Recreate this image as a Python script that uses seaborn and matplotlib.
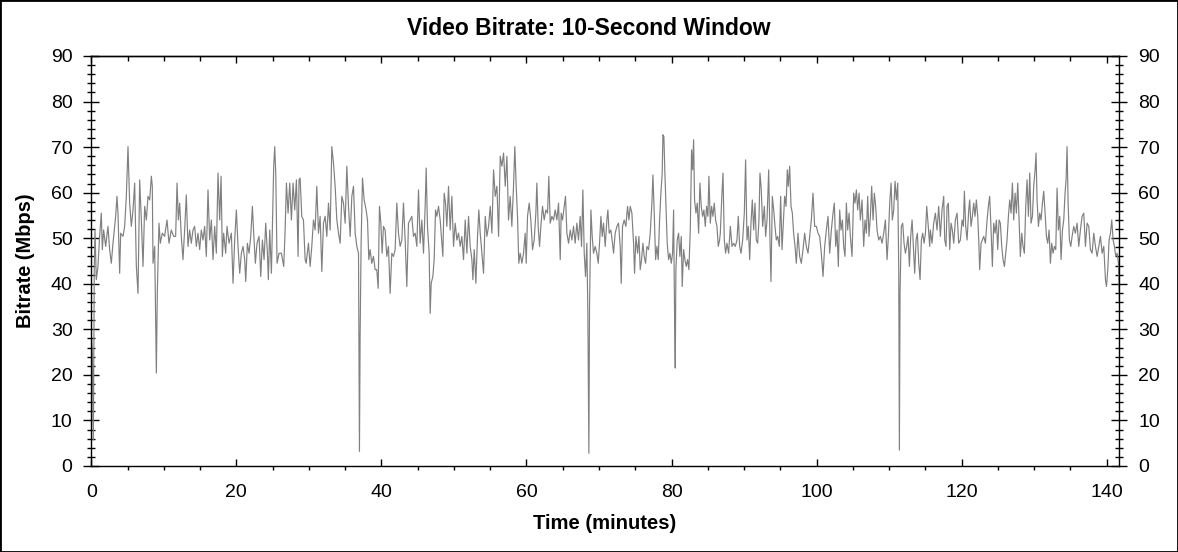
import matplotlib

matplotlib.use("Agg")
import matplotlib.pyplot as plt
from matplotlib.ticker import MultipleLocator
import seaborn as sns

# values: minutes and Mbps (10-second window)
time_min = [
    0.00, 0.14, 0.28, 0.41, 0.51, 0.69, 0.92, 1.15, 1.38, 1.52, 1.70, 1.98, 2.30, 2.53, 2.76, 2.99,
    3.36, 3.54, 3.68, 3.91, 4.05, 4.37, 4.60, 4.83, 5.06, 5.29, 5.52, 5.75, 5.98, 6.21, 6.44, 6.67,
    6.90, 7.13, 7.36, 7.59, 7.82, 8.05, 8.28, 8.41, 8.51, 8.74, 8.87, 8.97, 9.10, 9.33, 9.52, 9.79,
    10.11, 10.44, 10.71, 11.03, 11.36, 11.63, 11.82, 12.00, 12.18, 12.41, 12.64, 12.87, 13.10, 13.33,
    13.56, 13.79, 14.02, 14.25, 14.48, 14.71, 14.94, 15.17, 15.40, 15.63, 15.86, 16.09, 16.32, 16.55,
    16.78, 17.01, 17.24, 17.47, 17.70, 17.89, 18.07, 18.25, 18.53, 18.71, 18.99, 19.31, 19.54, 19.77,
    20.00, 20.23, 20.46, 20.69, 20.92, 21.15, 21.29, 21.52, 21.75, 21.98, 22.21, 22.39, 22.62, 22.85,
    23.13, 23.36, 23.59, 23.82, 24.05, 24.28, 24.41, 24.60, 24.83, 24.97, 25.15, 25.29, 25.43, 25.61,
    25.89, 26.21, 26.53, 26.71, 26.90, 27.13, 27.36, 27.59, 27.82, 28.05, 28.28, 28.51, 28.64,
    28.79, 29.02, 29.25, 29.48, 29.62, 29.94, 30.17, 30.40, 30.63, 30.86, 31.09, 31.32, 31.55, 31.78,
    32.01, 32.24, 32.47, 32.70, 32.93, 33.16, 33.39, 33.62, 33.85, 34.08, 34.31, 34.54, 34.77, 35.00,
    35.23, 35.46, 35.69, 35.92, 36.15, 36.38, 36.61, 36.84, 36.93, 36.97, 37.06, 37.20, 37.39, 37.62,
    37.89, 38.08, 38.26, 38.44, 38.67, 38.90, 39.13, 39.36, 39.55, 39.73, 39.92, 40.10, 40.28, 40.51,
    40.74, 40.97, 41.20, 41.43, 41.66, 41.89, 42.12, 42.35, 42.58, 42.81, 43.04, 43.27, 43.50, 43.73,
    43.96, 44.19, 44.42, 44.65, 44.88, 45.11, 45.34, 45.57, 45.80, 46.03, 46.17, 46.35, 46.58, 46.72,
    46.86, 47.09, 47.27, 47.46, 47.64, 47.87, 48.10, 48.33, 48.47, 48.65, 48.84, 49.02, 49.25, 49.48,
    49.71, 49.94, 50.17, 50.40, 50.63, 50.86, 51.09, 51.32, 51.55, 51.78, 52.01, 52.24, 52.47, 52.61,
    52.79, 53.02, 53.25, 53.43, 53.62, 53.85, 54.08, 54.31, 54.54, 54.77, 55.00, 55.23, 55.46, 55.69,
    55.92, 56.15, 56.38, 56.61, 56.84, 57.07, 57.30, 57.52,
    57.75, 57.98, 58.21, 58.39, 58.58, 58.76, 58.94, 59.13, 59.36, 59.59, 59.82, 59.96, 60.14, 60.37,
    60.60, 60.83, 61.06, 61.29, 61.43, 61.61, 61.80, 61.98, 62.21, 62.44, 62.67, 62.90, 63.08, 63.27,
    63.50, 63.73, 63.96, 64.19, 64.42, 64.65, 64.78, 64.97, 65.20, 65.38, 65.57, 65.80, 66.03, 66.26,
    66.48, 66.71, 66.94, 67.17, 67.40, 67.59, 67.77, 67.96, 68.14, 68.32, 68.46, 68.60, 68.69, 68.88,
    69.06, 69.24, 69.47, 69.70, 69.89, 70.07, 70.26, 70.44, 70.62, 70.85, 71.08, 71.22, 71.40, 71.63,
    71.86, 72.00, 72.23, 72.46, 72.69, 72.92, 73.06, 73.24, 73.47, 73.70, 73.93, 74.12, 74.30, 74.53,
    74.76, 74.90, 75.08, 75.31, 75.50, 75.68, 75.86, 76.05, 76.23, 76.42, 76.60, 76.83, 77.06, 77.29,
    77.43, 77.61, 77.80, 77.98, 78.16, 78.35, 78.53, 78.71, 78.81, 78.94, 79.08, 79.22, 79.40, 79.59,
    79.77, 79.96, 80.14, 80.28, 80.42, 80.51, 80.60, 80.78, 80.97, 81.15, 81.34, 81.47, 81.66, 81.84,
    82.03, 82.21, 82.39, 82.58, 82.76, 82.90, 83.04, 83.17, 83.36, 83.54, 83.73, 83.91, 84.09, 84.28,
    84.46, 84.65, 84.83, 85.01, 85.15, 85.34, 85.52, 85.70, 85.89, 86.07, 86.26, 86.44, 86.62,
    86.72, 86.95, 87.09, 87.27, 87.45, 87.64, 87.87, 88.10, 88.33, 88.56, 88.79, 89.02, 89.20, 89.39,
    89.57, 89.80, 90.03, 90.21, 90.40, 90.58, 90.77, 90.95, 91.13, 91.32, 91.50, 91.68, 91.87, 92.05,
    92.19, 92.37, 92.56, 92.79, 92.97, 93.16, 93.39, 93.57, 93.71, 93.89, 94.08, 94.26, 94.44, 94.63,
    94.86, 95.04, 95.23, 95.41, 95.59, 95.78, 95.96, 96.10, 96.28, 96.47, 96.65, 96.83, 97.02, 97.20,
    97.43, 97.66, 97.89, 98.12, 98.35, 98.58, 98.81, 99.04, 99.27, 99.50, 99.73, 99.96, 100.19, 100.42,
    100.65, 100.88, 101.11, 101.34, 101.57, 101.80, 102.03, 102.26, 102.44, 102.63, 102.81, 102.99,
    103.18, 103.36, 103.55, 103.73, 103.91, 104.10, 104.28, 104.47, 104.65, 104.88, 105.11, 105.29,
    105.48, 105.66, 105.85, 106.03, 106.26, 106.49, 106.67, 106.86, 107.04, 107.22, 107.41, 107.59,
    107.78, 107.96, 108.14, 108.33, 108.56, 108.79, 109.02, 109.25, 109.48, 109.71, 109.89, 110.08,
    110.26, 110.44, 110.63, 110.81, 110.99, 111.18, 111.32, 111.41, 111.50, 111.68, 111.87, 112.05,
    112.24, 112.42, 112.60, 112.79, 112.97, 113.16, 113.34, 113.52, 113.71, 113.89, 114.08, 114.26,
    114.44, 114.63, 114.81, 115.00, 115.18, 115.36, 115.59,
    115.68, 115.91, 116.14, 116.37, 116.60, 116.83, 117.06, 117.29, 117.52, 117.66, 117.84, 117.98,
    118.16, 118.35, 118.53, 118.71, 118.90, 119.13, 119.36, 119.59, 119.82, 120.05, 120.23, 120.37,
    120.55, 120.74, 120.97, 121.10, 121.29, 121.47, 121.66, 121.84, 122.02, 122.21, 122.35, 122.48,
    122.67, 122.85, 123.04, 123.27, 123.50, 123.68, 123.86, 124.05, 124.23, 124.41, 124.60, 124.78,
    124.97, 125.15, 125.33, 125.52, 125.70, 125.89, 126.07, 126.25, 126.44, 126.62, 126.81, 126.99,
    127.17, 127.36, 127.54, 127.73, 127.91, 128.09, 128.28, 128.46, 128.64, 128.83, 129.01, 129.20,
    129.38, 129.56, 129.75, 129.93, 130.12, 130.25, 130.39, 130.58, 130.76, 130.94, 131.13, 131.31,
    131.50, 131.68, 131.86, 132.05, 132.23, 132.41, 132.60, 132.78, 132.97, 133.15, 133.33, 133.52,
    133.70, 133.89, 134.07, 134.25, 134.39, 134.53, 134.67, 134.85, 135.04, 135.22, 135.45, 135.68,
    135.91, 136.14, 136.37, 136.60, 136.83, 137.06, 137.29, 137.52, 137.75, 137.98, 138.21, 138.44,
    138.67, 138.90, 139.13, 139.36, 139.59, 139.82, 139.96, 140.14, 140.32, 140.51, 140.69, 140.88,
    141.06, 141.24, 141.43, 141.61, 141.75,
]

bitrate_mbps = [
    29.2, 24.8, 5.7, 43.1, 51.8, 40.9, 43.8, 50.4, 55.5, 47.5, 51.8, 48.2, 52.6, 47.5, 44.5, 48.9,
    54.8, 59.2, 55.5, 42.3, 51.1, 50.4, 52.6, 59.2, 70.1, 57.7, 52.6, 56.2, 62.1, 43.8, 37.9, 62.8,
    54.0, 43.8, 57.0, 54.0, 59.2, 58.4, 63.6, 61.4, 44.5, 48.2, 32.1, 20.4, 37.9, 53.3, 48.9, 51.1,
    50.4, 54.0, 48.9, 51.8, 50.4, 50.4, 62.1, 54.0, 57.7, 50.4, 45.3, 51.8, 59.5, 48.2,
    51.8, 48.9, 51.8, 52.6, 48.2, 51.1, 47.5, 51.8, 49.6, 52.6, 46.0, 60.6, 49.6, 54.0,
    45.3, 52.6, 46.7, 64.3, 54.0, 63.6, 46.0, 51.1, 46.7, 52.6, 48.9, 51.1, 40.1, 49.6,
    56.2, 48.2, 42.3, 46.7, 48.2, 45.3, 40.5, 48.9, 46.7, 50.4, 57.0, 51.1, 44.5, 48.9,
    50.4, 41.6, 49.6, 45.3, 53.3, 46.7, 40.9, 51.8, 42.3, 52.6, 65.8, 70.1, 64.3, 44.5,
    46.7, 46.7, 43.8, 51.1, 62.1, 55.5, 62.1, 54.0, 62.1, 56.2, 62.8, 46.0, 62.8,
    63.2, 54.8, 54.0, 45.3, 44.5, 48.9, 43.8, 48.2, 54.0, 51.8, 61.4, 51.1, 54.8, 42.7,
    53.3, 54.8, 50.4, 57.7, 51.8, 70.1, 66.5, 61.4, 54.0, 51.1, 48.9, 59.2, 57.7, 53.3,
    65.8, 57.0, 50.4, 59.2, 61.4, 51.1, 48.2, 46.7, 17.4, 3.2, 28.4, 48.9, 63.2, 58.4,
    56.2, 54.0, 45.3, 47.5, 44.5, 46.0, 43.1, 43.1, 39.0, 57.0, 53.3, 46.7, 52.6, 51.8,
    46.0, 48.2, 37.9, 46.7, 46.0, 47.5, 57.7, 51.1, 48.2, 49.6, 57.7, 49.6, 39.4, 53.3,
    54.0, 54.8, 50.4, 51.1, 48.2, 60.6, 48.9, 54.0, 46.7, 57.0, 65.4, 52.6, 46.7, 33.5,
    40.1, 41.6, 45.3, 56.2, 54.8, 57.0, 54.0, 48.9, 46.0, 59.9, 57.7, 52.6, 61.4, 51.8,
    59.2, 48.2, 53.3, 49.6, 51.1, 48.2, 50.4, 45.3, 54.0, 46.7, 54.8, 48.2, 45.3, 40.9,
    47.5, 40.1, 50.4, 56.2, 51.1, 46.7, 42.3, 54.8, 50.4, 52.6, 57.0, 51.1, 65.0, 59.2,
    61.4, 50.4, 68.0, 65.8, 68.7, 61.4, 68.0, 54.0,
    59.2, 52.6, 61.4, 70.1, 61.4, 54.8, 44.5, 46.7, 44.5, 46.7, 51.1, 44.5, 54.8, 57.7,
    54.0, 47.5, 49.6, 55.5, 62.1, 52.6, 48.2, 52.6, 57.0, 54.0, 56.2, 55.5, 63.6, 53.3,
    54.8, 54.0, 56.2, 54.0, 57.7, 45.3, 55.5, 54.0, 57.0, 59.2, 51.1, 48.9, 51.8, 49.6,
    52.6, 48.9, 53.3, 49.6, 54.8, 48.2, 60.6, 46.7, 41.6, 48.9, 33.5, 2.8, 35.0, 56.2,
    50.4, 46.7, 48.2, 46.7, 44.5, 48.9, 54.8, 50.4, 53.3, 48.2, 54.0, 56.2, 51.1, 51.8,
    48.9, 46.7, 51.1, 52.6, 53.3, 48.2, 40.1, 52.6, 54.0, 52.6, 57.0, 54.0, 57.0, 55.5,
    48.9, 42.3, 50.4, 46.7, 50.4, 43.1, 45.3, 48.9, 46.0, 44.5, 48.2, 47.5, 51.1, 57.7,
    63.9, 55.5, 45.3, 48.2, 45.3, 54.0, 59.9, 64.3, 72.7, 72.3, 64.3, 57.7, 48.9, 45.3,
    46.7, 44.5, 46.7, 56.2, 32.1, 21.5, 43.1, 49.6, 51.1, 46.0, 50.4, 39.4, 47.5, 45.3,
    43.8, 45.3, 43.1, 51.8, 69.4, 65.0, 71.6, 58.4, 55.5, 57.7, 51.1, 62.1, 57.0, 54.8,
    56.2, 52.6, 57.0, 54.8, 63.6, 53.3, 57.0, 54.8, 57.7, 54.0, 52.6, 48.2, 49.6,
    51.1, 59.9, 64.3, 49.6, 46.7, 48.9, 46.7, 52.6, 48.2, 48.9, 48.2, 49.6, 54.8, 48.2,
    46.7, 49.6, 55.5, 67.2, 49.6, 52.6, 45.3, 53.3, 58.4, 51.8, 57.7, 49.6, 48.9, 54.0,
    64.3, 60.6, 52.6, 57.0, 50.4, 54.0, 65.0, 49.6, 40.5, 59.2, 56.2, 52.6, 49.6, 50.4,
    48.2, 59.2, 47.5, 53.3, 59.2, 57.0, 65.0, 61.4, 65.8, 57.0, 55.5, 51.1, 48.2, 44.5,
    51.1, 46.0, 44.5, 47.5, 51.1, 48.2, 46.7, 50.4, 54.0, 59.9, 52.6, 52.6, 51.1, 50.4,
    46.7, 41.6, 48.2, 51.8, 54.8, 46.7, 51.8, 55.5, 57.7, 48.2, 51.8, 43.8,
    56.2, 51.8, 54.0, 48.2, 46.0, 57.7, 51.8, 55.5, 50.4, 46.0, 59.9, 57.7,
    60.6, 56.2, 59.9, 54.0, 58.4, 48.2, 54.0, 51.1, 59.2, 50.4, 54.8, 61.4,
    54.0, 59.9, 57.0, 51.8, 49.6, 50.4, 48.9, 51.1, 54.0, 45.3, 50.4, 57.7,
    62.1, 54.0, 56.2, 62.5, 58.4, 62.1, 43.1, 3.5, 37.9, 52.6, 53.3, 48.9,
    46.7, 48.2, 50.4, 43.8, 50.4, 54.0, 48.2, 42.3, 49.6, 51.1, 44.5, 40.9,
    49.6, 51.1, 48.9, 51.1, 57.0, 53.3, 48.2,
    51.8, 48.9, 53.3, 55.5, 51.8, 57.0, 50.4, 56.2, 59.2, 49.6, 48.2, 57.0,
    57.7, 47.5, 53.3, 51.8, 48.9, 54.0, 55.5, 48.9, 49.6, 54.0, 52.6, 60.3,
    52.6, 49.6, 56.2, 58.4, 52.6, 54.8, 57.7, 54.8, 58.4, 54.8, 49.6, 43.1,
    48.9, 49.6, 50.4, 48.9, 54.0, 57.0, 59.2, 51.8, 43.8, 53.3, 51.1, 54.0,
    47.5, 54.0, 53.3, 48.2, 45.3, 43.8, 46.7, 49.6, 54.8, 58.4, 55.5, 62.1,
    54.0, 59.9, 55.5, 62.1, 54.0, 46.0, 51.1, 48.2, 46.7, 57.0, 62.8, 54.8,
    64.3, 53.3, 54.8, 61.4, 65.0, 68.7, 58.4, 52.6, 55.5, 54.0, 57.7, 60.3,
    55.5, 50.4, 48.9, 51.8, 44.5, 48.9, 46.7, 48.2, 47.5, 61.0, 51.8, 54.8,
    45.3, 51.8, 54.0, 59.9, 62.8, 70.1, 57.7, 49.6, 48.2, 50.4, 52.6, 51.1,
    53.3, 48.2, 51.8, 54.8, 55.5, 48.2, 53.3, 52.6, 47.5, 46.7, 51.1, 48.2,
    46.0, 48.2, 50.4, 46.7, 48.2, 40.9, 39.4, 43.1, 49.6, 51.1, 54.0, 49.6,
    48.2, 46.0, 46.7, 44.5, 35.7,
]

title = "Video Bitrate: 10-Second Window"
x_label = "Time (minutes)"
y_label = "Bitrate (Mbps)"

sns.set_theme(style="ticks")
plt.rcParams["font.family"] = ["Liberation Sans", "DejaVu Sans"]
plt.rcParams["text.color"] = "black"
plt.rcParams["xtick.color"] = "black"
plt.rcParams["ytick.color"] = "black"

fig = plt.figure(figsize=(11.78, 5.52), dpi=100)
ax = fig.add_axes([0.0775, 0.1558, 0.8728, 0.7428])

sns.lineplot(x=time_min, y=bitrate_mbps, ax=ax, color="#808080",
             linewidth=0.85, estimator=None, sort=False)

ax.set_xlim(0, 141.75)
ax.set_ylim(0, 90)
ax.set_xlabel("")
ax.set_ylabel("")

for side in ["left", "right", "top", "bottom"]:
    ax.spines[side].set_visible(True)
    ax.spines[side].set_color("black")
    ax.spines[side].set_linewidth(1.0)

# y axis: labels on both sides, ticks cross the spine
ax.yaxis.set_major_locator(MultipleLocator(10))
ax.yaxis.set_minor_locator(MultipleLocator(2))
ax.tick_params(axis="y", which="major", direction="inout", length=11, width=1,
               left=True, right=True, labelleft=True, labelright=True,
               labelsize=14, pad=8, colors="black")
ax.tick_params(axis="y", which="minor", direction="inout", length=5.5, width=1,
               left=True, right=True)

# x axis: majors point in, minors point out at the bottom
ax.xaxis.set_major_locator(MultipleLocator(20))
ax.xaxis.set_minor_locator(MultipleLocator(5))
ax.tick_params(axis="x", which="major", direction="in", length=5, width=1,
               bottom=True, top=False, labelsize=14, pad=13, colors="black")
ax.tick_params(axis="x", which="minor", direction="out", length=3.2, width=1,
               bottom=True, top=False)

# top axis ticks all point inward
top = ax.secondary_xaxis("top")
top.xaxis.set_major_locator(MultipleLocator(20))
top.xaxis.set_minor_locator(MultipleLocator(5))
top.tick_params(axis="x", which="major", direction="in", length=5, width=1,
                labeltop=False)
top.tick_params(axis="x", which="minor", direction="in", length=3.4, width=1)
top.spines["top"].set_linewidth(1.0)

fig.text(0.5, 0.949, title, ha="center", va="center", fontsize=16.5,
         fontweight="bold", color="black")
fig.text(0.5136, 0.051, x_label, ha="center", va="center", fontsize=14.6,
         fontweight="bold", color="black")
fig.text(0.022, 0.527, y_label, ha="center", va="center", rotation=90,
         fontsize=14.4, fontweight="bold", color="black")

# thin frame round the whole picture
fig.add_artist(plt.Rectangle((0, 0), 1, 1, transform=fig.transFigure,
                             fill=False, edgecolor="black", linewidth=2))

fig.savefig("out.png", dpi=100, facecolor="white")
